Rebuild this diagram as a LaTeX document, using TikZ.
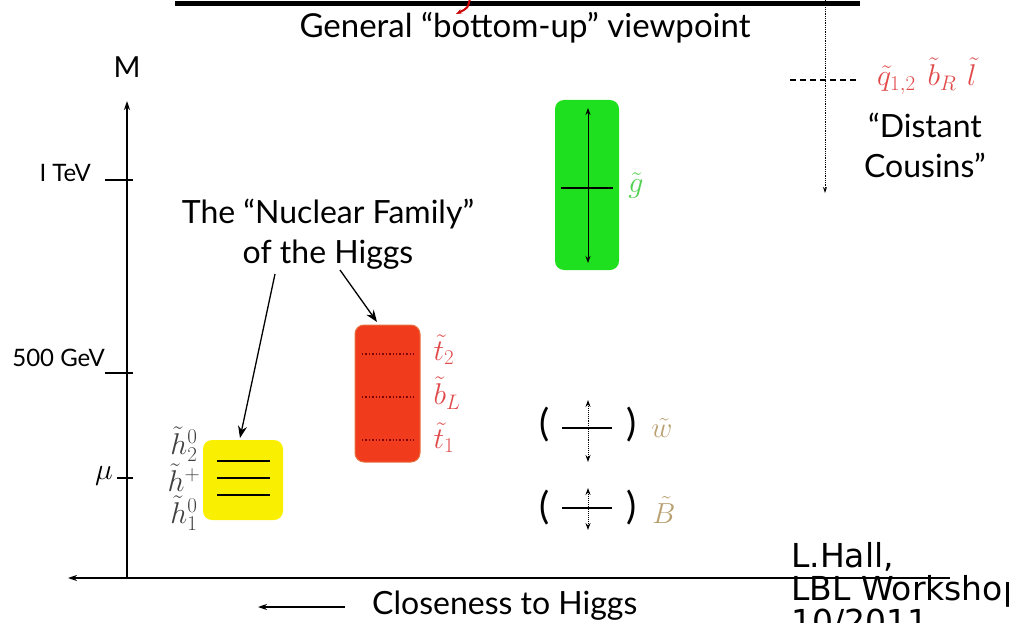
\RequirePackage{fix-cm}
\documentclass[tikz,border=0pt]{standalone}
\usepackage{fontspec}
\setmainfont{Lato}
\newfontfamily\djv{DejaVu Sans}
\usetikzlibrary{arrows.meta}
\definecolor{gbox}{HTML}{1EE01E}
\definecolor{rbox}{HTML}{F03C1C}
\definecolor{redge}{HTML}{E87040}
\definecolor{ybox}{HTML}{F8F000}
\definecolor{lred}{HTML}{E04A4A}
\definecolor{lgreen}{HTML}{50D050}
\definecolor{tan}{HTML}{B8A070}
\tikzset{
  ax/.style={line width=1.6pt,-{Stealth[length=9pt,width=6pt]}},
  tick/.style={line width=1.4pt},
  lab/.style={font=\fontsize{24}{26}\selectfont, inner sep=0pt},
  mlab/.style={font=\fontsize{30}{32}\selectfont, inner sep=0pt},
  par/.style={font=\fontsize{38}{40}\selectfont, inner sep=0pt},
  big/.style={font=\fontsize{32}{40}\selectfont, inner sep=0pt, align=center},
  pointer/.style={line width=1.3pt,-{Stealth[length=12pt,width=9pt]}},
  dbl/.style={line width=0.9pt,densely dotted,{Stealth[length=7pt,width=5pt]}-{Stealth[length=7pt,width=5pt]}},
  lvl/.style={line width=1.6pt},
  box/.style={rounded corners=9pt},
}
\begin{document}
\begin{tikzpicture}[x=1pt,y=-1pt]
\useasboundingbox (0,0) rectangle (1009,623);
\clip (0,0) rectangle (1009,623);
% top bar
\draw[line width=5pt] (175,4) -- (860,4);
\draw[red!80!black,line width=2pt,-{Stealth[length=6pt]}] (470,-2) .. controls (468,8) .. (456,14);
\draw[line width=0.8pt,densely dotted,-{Stealth[length=6pt,width=4pt]}] (825,0) -- (825,193);
\draw[line width=1.3pt,dash pattern=on 6pt off 4pt] (790,80) -- (858,80);
\node[big,font=\fontsize{33}{36}\selectfont] (title) at (525,28) {General “bottom-up” viewpoint};
% axes
\coordinate (o) at (127,578);
\coordinate (ytop) at (127,101);
\coordinate (xleft) at (68,578);
\coordinate (xright) at (950,578);
\draw[ax] (o) -- (ytop);
\draw[line width=1.6pt,-{Stealth[length=9pt,width=6pt]}] (xright) -- (xleft);
\node[lab,font=\fontsize{29}{30}\selectfont] (M) at (127,67) {M};
\draw[tick] (105,180) -- (133,180);
\node[lab,anchor=east] (tev) at (91,173) {I TeV};
\draw[tick] (105,373) -- (133,373);
\node[lab,anchor=east] (gev) at (105,358) {500 GeV};
\draw[tick] (117,478) -- (133,478);
\node[mlab,anchor=east] (mu) at (113,476) {$\mu$};
% green box
\fill[gbox,box] (555,100) rectangle (619,270);
\coordinate (gt) at (588,108);
\coordinate (gb) at (588,263);
\draw[line width=0.9pt,{Stealth[length=7pt,width=5pt]}-{Stealth[length=7pt,width=5pt]}] (gt) -- (gb);
\draw[lvl] (561,188) -- (613,188);
\node[mlab,text=lgreen] (gl) at (636,186) {$\tilde g$};
% red box
\fill[rbox,draw=redge,line width=1pt,box] (355,325) rectangle (420,462);
\foreach \y in {354,397,440} \draw[line width=1.4pt,dotted,red!50!black] (362,\y) -- (415,\y);
\node[mlab,text=lred] (t2) at (444,350) {$\tilde t_2$};
\node[mlab,text=lred] (bl) at (447,393) {$\tilde b_L$};
\node[mlab,text=lred] (t1) at (444,438) {$\tilde t_1$};
% yellow box
\fill[ybox,box] (203,440) rectangle (283,520);
\foreach \y in {461,478,495} \draw[lvl] (217,\y) -- (270,\y);
\node[mlab,text=black!75] (h2) at (184,444) {$\tilde h_2^0$};
\node[mlab,text=black!75] (hp) at (184,478) {$\tilde h^+$};
\node[mlab,text=black!75] (h1) at (184,513) {$\tilde h_1^0$};
% nuclear family
\node[big] (nf) at (328,234) {The “Nuclear Family”\\of the Higgs};
\coordinate (ybt) at (240,438);
\coordinate (rbt) at (377,322);
\draw[pointer] (275,274) -- (ybt);
\draw[pointer] (340,270) -- (rbt);
% wino / bino
\node[par] (wl) at (545,425) {(};
\node[par] (wr) at (632,425) {)};
\draw[lvl] (562,428) -- (612,428);
\draw[dbl] (588,400) -- (588,462);
\node[mlab,text=tan,font=\fontsize{29}{30}\selectfont] (wt) at (662,428) {$\tilde w$};
\node[par] (bl2) at (545,508) {(};
\node[par] (br2) at (632,508) {)};
\draw[lvl] (562,508) -- (612,508);
\draw[dbl] (588,488) -- (588,530);
\node[mlab,text=tan,font=\fontsize{29}{30}\selectfont] (bt) at (664,510) {$\tilde B$};
% distant cousins
\node[mlab,text=lred,anchor=west] (sq) at (877,76) {$\tilde q_{1,2}\hspace{0.4em}\tilde b_R\hspace{0.35em}\tilde l$};
\node[big] (dc) at (925,145) {“Distant\\Cousins”};
% closeness
\node[big,anchor=west] (cl) at (372,606) {Closeness to Higgs};
\draw[line width=1.6pt,-{Stealth[length=9pt,width=6pt]}] (345,607) -- (258,607);
% credit
\node[font=\djv\fontsize{33}{33}\selectfont,align=left,anchor=north west,inner sep=0pt] (cr) at (791,542) {L.Hall,\\LBL Workshop\\10/2011};
\end{tikzpicture}
\end{document}
